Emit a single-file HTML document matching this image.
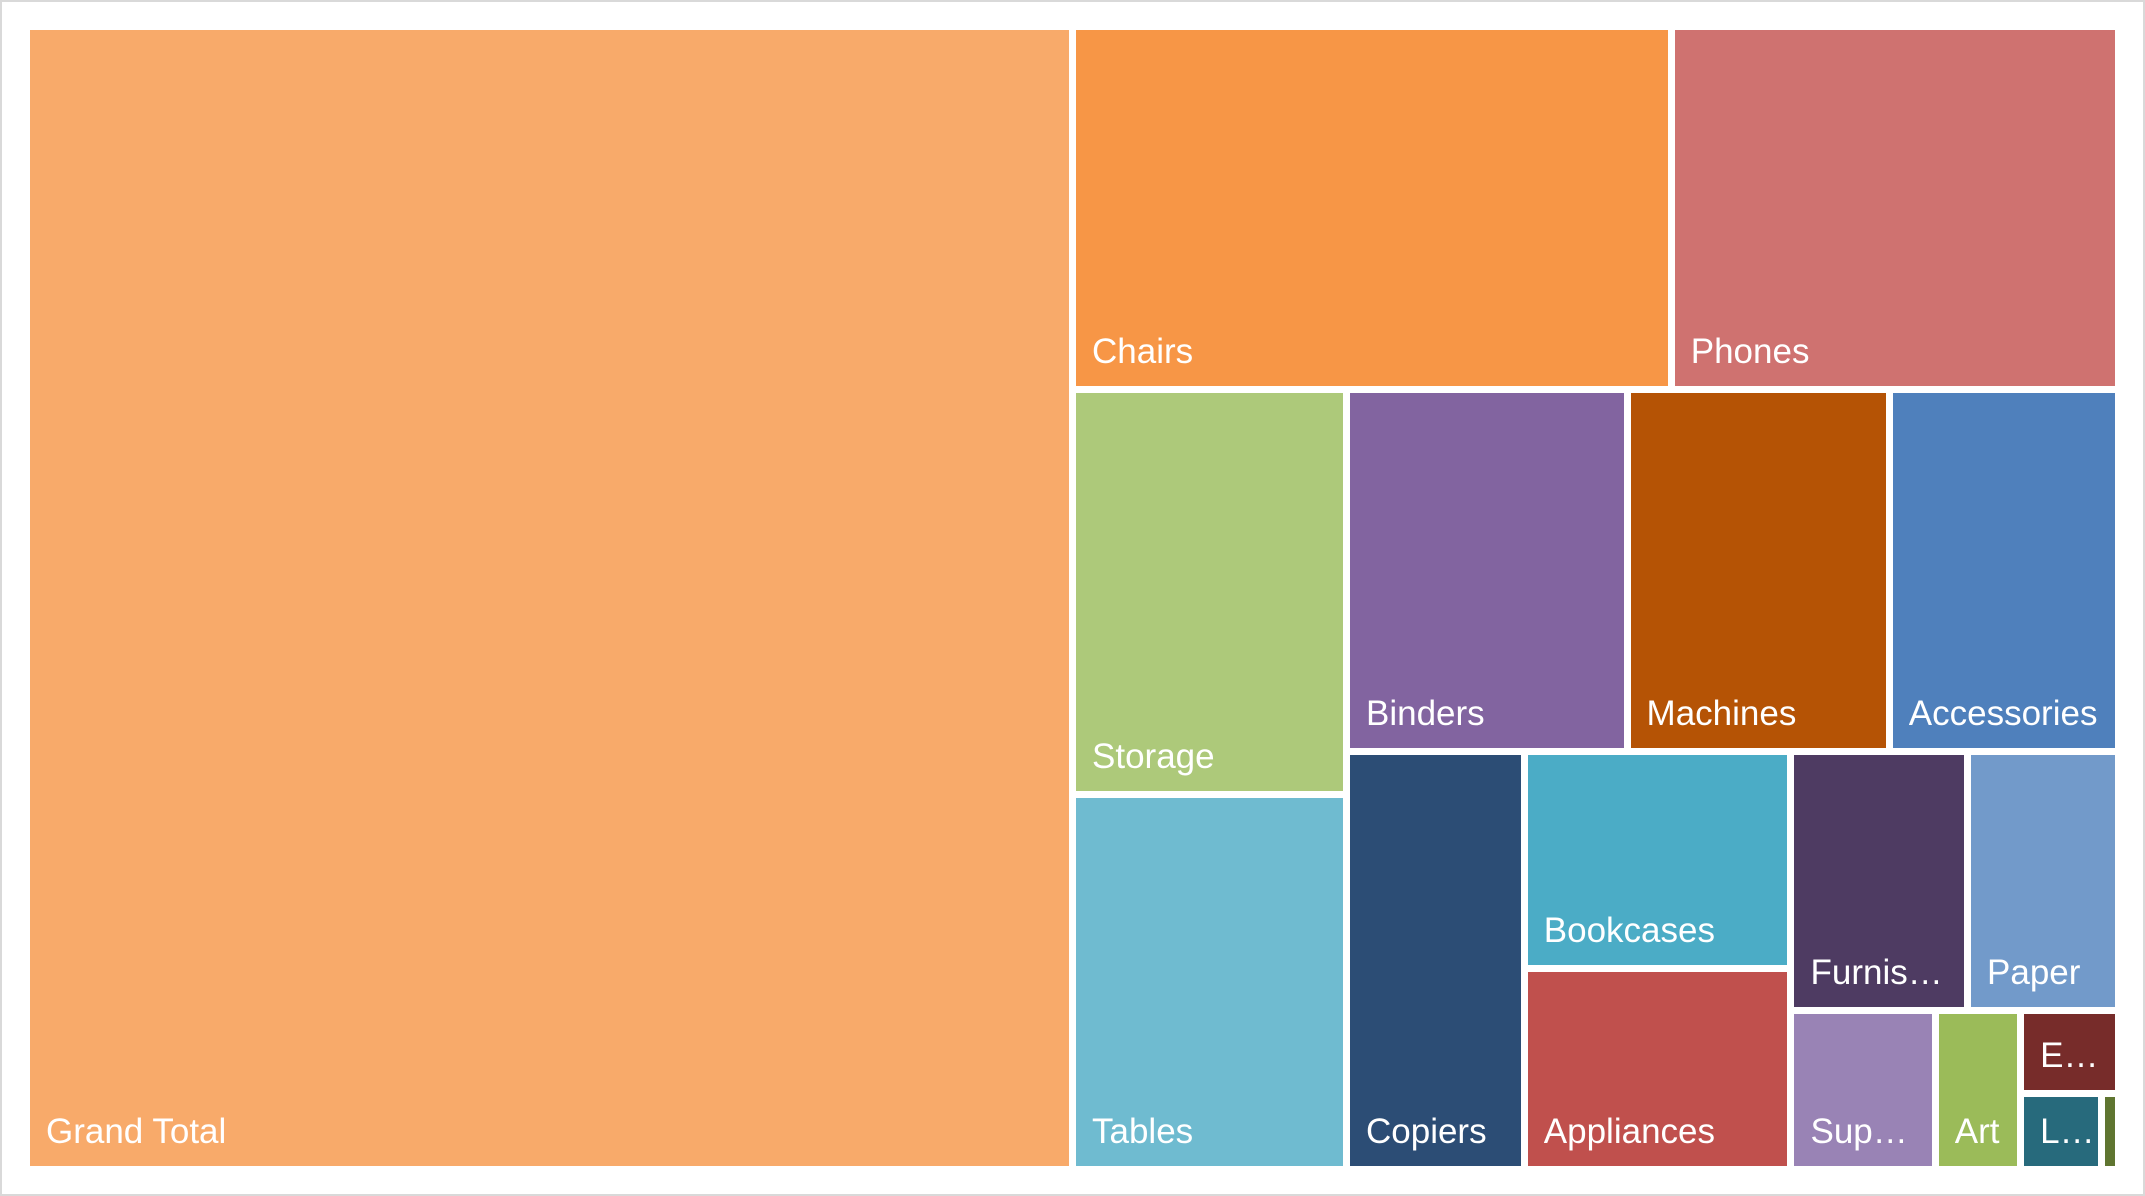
<!DOCTYPE html>
<html><head><meta charset="utf-8">
<style>
html,body{margin:0;padding:0;background:#fff;}
#chart{position:relative;width:2145px;height:1196px;overflow:hidden;background:#fff;}
#frame{position:absolute;left:0;top:0;width:2141px;height:1192px;border:2px solid #d9d9d9;}
.tile{position:absolute;box-sizing:border-box;overflow:hidden;}
.lbl{position:absolute;left:16px;right:6px;bottom:14px;color:#fff;font-family:"Liberation Sans","DejaVu Sans",sans-serif;font-size:35px;line-height:40px;white-space:nowrap;overflow:hidden;text-overflow:ellipsis;}
</style></head>
<body>
<div id="chart">
<div id="frame"></div>
</div>
<script>
const categories = ["Grand Total","Chairs","Phones","Storage","Tables","Binders","Machines","Accessories","Copiers","Bookcases","Appliances","Furnishings","Paper","Supplies","Art","Envelopes","Labels","Fasteners"];
const subValues = [328,245,167,155,153,143,125,112,87,81,69,59,34.5,20.4,12.2,9.3,1.9];
const colors = ["#F8AA6A","#F79646","#CF7270","#ADC97A","#6FBBD0","#8264A0","#B55305","#4F80BC","#2C4D75","#4BACC6","#C0504D","#4E3B62","#729ACA","#9983B5","#9BBB59","#772C2A","#276A7C","#5F7530"];
const grandTotal = subValues.reduce((a,b)=>a+b,0);
const values = [grandTotal].concat(subValues);

// layout tree (h = side by side, v = stacked)
const tree = {h:[0, {v:[{h:[1,2]}, {h:[{v:[3,4]}, {v:[{h:[5,6,7]}, {h:[8, {v:[9,10]}, {v:[{h:[11,12]}, {h:[13,14,{v:[15,{h:[16,17]}]}]}]}]}]}]}]}]};

const PX0=30, PY0=30, PX1=2115, PY1=1166, GAP=7;
const out=[];
function sum(n){ if(typeof n==='number') return values[n]; const c=n.h||n.v; return c.reduce((a,b)=>a+sum(b),0); }
function lay(n,x,y,w,h){
  if(typeof n==='number'){ out.push({i:n,x:x,y:y,w:w,h:h}); return; }
  const horiz=!!n.h; const c=n.h||n.v; const s=sum(n);
  let off=0;
  for(const ch of c){
    const f=sum(ch)/s;
    if(horiz){ lay(ch,x+off,y,w*f,h); off+=w*f; }
    else { lay(ch,x,y+off,w,h*f); off+=h*f; }
  }
}
lay(tree, PX0, PY0, PX1-PX0+GAP, PY1-PY0+GAP);
const chart=document.getElementById('chart');
for(const r of out){
  const d=document.createElement('div');
  d.className='tile';
  
  
  d.style.left=r.x+'px'; d.style.top=r.y+'px';
  d.style.width=Math.max(0,r.w-GAP)+'px'; d.style.height=Math.max(0,r.h-GAP)+'px';
  d.style.background=colors[r.i];
  if(r.w>40){
    const l=document.createElement('div');
    l.className='lbl';
    
    
    l.textContent=categories[r.i];
    d.appendChild(l);
  }
  chart.appendChild(d);
}
</script>
</body></html>
